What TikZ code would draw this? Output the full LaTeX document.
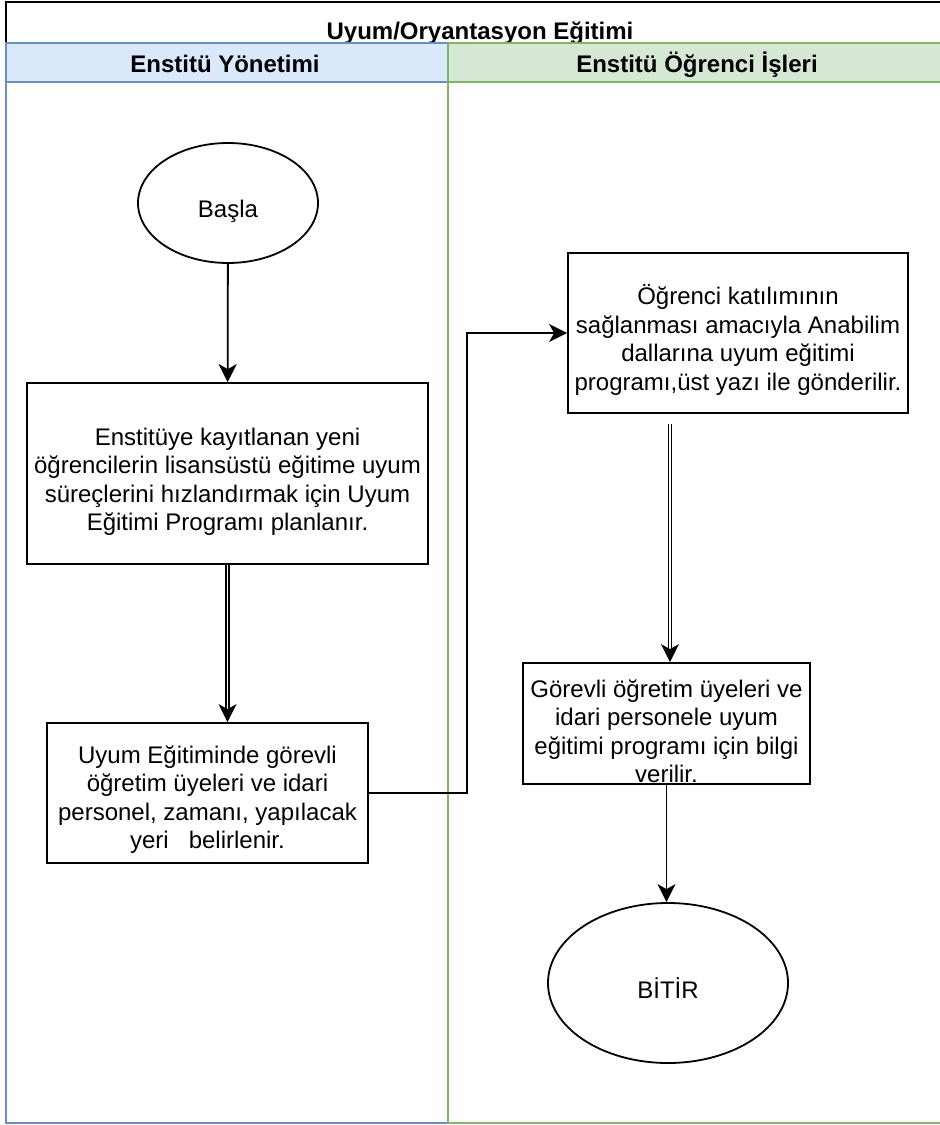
\documentclass[tikz,border=0pt]{standalone}
\usepackage{fontspec}
\setmainfont{Liberation Sans}
\usetikzlibrary{arrows.meta,shapes.geometric,calc}
\definecolor{mgmtfill}{HTML}{DAE8FC}
\definecolor{mgmtline}{HTML}{6C8EBF}
\definecolor{officefill}{HTML}{D5E8D4}
\definecolor{officeline}{HTML}{82B366}
\begin{document}
\begin{tikzpicture}[x=1pt,y=-1pt,
  font=\fontsize{24}{28.5}\selectfont,
  proc/.style={draw=black, line width=1.8pt, rectangle, inner sep=0pt},
  term/.style={draw=black, line width=1.8pt, ellipse, inner sep=0pt, text depth=0pt},
  txt/.style={align=center, inner sep=0pt},
  head/.style={anchor=base, inner sep=0pt, font=\fontsize{24}{28}\selectfont\bfseries},
  tip/.style={-{Stealth[length=18pt,width=18pt,inset=5pt]}},
  flow/.style={line width=1.8pt, tip},
  dflow/.style={line width=1.3pt, double, double distance=1.8pt, tip},
  ]
\useasboundingbox (0,0) rectangle (940,1125);

% pool frame with title
\draw[line width=2.2pt] (6,2) rectangle (960,1123);
\node[head] (title) at (480,39.3) {Uyum/Oryantasyon Eğitimi};

% lanes
\draw[mgmtline, line width=2.4pt, fill=mgmtfill] (6,43) rectangle (448,82);
\draw[mgmtline, line width=2.4pt] (6,82) rectangle (448,1123);
\draw[officeline, line width=2.4pt, fill=officefill] (448,43) rectangle (960,82);
\draw[officeline, line width=2.4pt] (448,82) rectangle (960,1123);
\node[head] (laneA) at (225,72.7) {Enstitü Yönetimi};
\node[head] (laneB) at (697,72.7) {Enstitü Öğrenci İşleri};

% flow nodes
\node[term, minimum width=180pt, minimum height=120pt, text height=28.6pt] (start) at (228,203) {Başla};
\node[proc, minimum width=401pt, minimum height=181pt] (b1) at (227.5,473.5) {};
\node[txt] (t1) at ([yshift=-8.5pt]b1.center) {Enstitüye kayıtlanan yeni\\öğrencilerin lisansüstü eğitime uyum\\süreçlerini hızlandırmak için Uyum\\Eğitimi Programı planlanır.};
\node[proc, minimum width=321pt, minimum height=140pt] (b2) at (207.5,793) {};
\node[txt] (t2) at ([yshift=-6.5pt]b2.center) {Uyum Eğitiminde görevli\\öğretim üyeleri ve idari\\personel, zamanı, yapılacak\\yeri\ \ \ belirlenir.};
\node[proc, minimum width=340pt, minimum height=160pt] (b3) at (738,333) {};
\node[txt] (t3) at ([yshift=-7pt]b3.center) {Öğrenci katılımının\\sağlanması amacıyla Anabilim\\dallarına uyum eğitimi\\programı,üst yazı ile gönderilir.};
\node[proc, minimum width=287pt, minimum height=121pt] (b4) at (666.5,723.5) {};
\node[txt] (t4) at ([yshift=-8pt]b4.center) {Görevli öğretim üyeleri ve\\idari personele uyum\\eğitimi programı için bilgi\\verilir.};
\node[term, minimum width=240pt, minimum height=160pt, text height=30.6pt] (end) at (668,983) {BİTİR};

% connectors
\coordinate (bend) at (467,793);
\coordinate (d3) at (670,424);
\draw[flow] (start) -- (b1);
\draw[dflow] (b1.south) -- (b1.south |- b2.north);
\draw[flow] (b2.east) -- (bend) |- (b3.west);
\draw[dflow] (d3) -- (d3 |- b4.north);
\draw[flow] (b4.south) -- (b4.south |- end.north);
\end{tikzpicture}
\end{document}
